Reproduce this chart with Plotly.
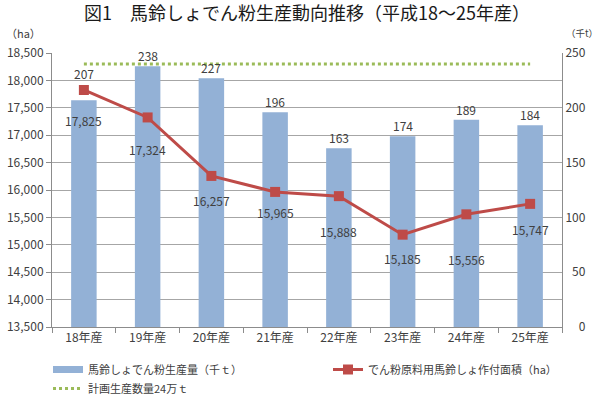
import plotly.graph_objects as go

categories = ["18年産", "19年産", "20年産", "21年産", "22年産", "23年産", "24年産", "25年産"]
production = [207, 238, 227, 196, 163, 174, 189, 184]          # 千t (right axis)
area = [17825, 17324, 16257, 15965, 15888, 15185, 15556, 15747]  # ha (left axis)
plan = [240] * len(categories)                                  # 千t

bar_label_shift = [16, 0, 0, 0, 0, 0, 0, 0]
line_label_drop = [31, 32, 25, 21, 35, 24, 45, 26]

FONT = "Noto Sans CJK JP"
TXT = "#404040"
GRID = "#a6a6a6"
AX = "#8c8c8c"
BAR = "#93b1d6"

W, H = 600, 398
ml, mr, mt, mb = 52, 38, 53, 71
pw, ph = W - ml - mr, H - mt - mb


def px_x(x):
    return (x - ml) / pw


def px_y(y):
    return (H - mb - y) / ph


fig = go.Figure()
fig.add_trace(go.Bar(
    x=categories, y=production, name="馬鈴しょでん粉生産量（千ｔ）",
    marker=dict(color=BAR, line=dict(width=0)),
    yaxis="y", showlegend=False,
))
# legend swatch for the bar series (wide flat bar like the reference)
fig.add_trace(go.Scatter(
    x=[None], y=[None], name="馬鈴しょでん粉生産量（千ｔ）", mode="lines",
    line=dict(color=BAR, width=7), yaxis="y", legend="legend", legendrank=1,
))
fig.add_trace(go.Scatter(
    x=categories, y=plan, name="計画生産数量24万ｔ", mode="lines",
    line=dict(color="#9bbb59", width=3, dash="3px,3px"),
    yaxis="y", legend="legend", legendrank=2,
))
fig.add_trace(go.Scatter(
    x=categories, y=area, name="でん粉原料用馬鈴しょ作付面積（ha）", mode="lines+markers",
    line=dict(color="#be4b48", width=3),
    marker=dict(symbol="square", size=10, color="#be4b48"),
    yaxis="y2", legend="legend2",
))

annotations = []
for c, v, s in zip(categories, production, bar_label_shift):
    annotations.append(dict(x=c, y=v, xref="x", yref="y", text=str(v), showarrow=False,
                            yanchor="bottom", yshift=s, font=dict(size=12, color=TXT)))
for c, v, d in zip(categories, area, line_label_drop):
    annotations.append(dict(x=c, y=v, xref="x", yref="y2", text=f"{v:,}", showarrow=False,
                            yanchor="middle", yshift=-d, font=dict(size=12, color=TXT)))
annotations.append(dict(x=px_x(23), y=px_y(33), xref="paper", yref="paper", text="（ha）",
                        showarrow=False, xanchor="center", yanchor="middle",
                        font=dict(size=11, color=TXT)))
annotations.append(dict(x=px_x(600), y=px_y(33), xref="paper", yref="paper", text="（千t）",
                        showarrow=False, xanchor="right", yanchor="middle",
                        font=dict(size=9.5, color=TXT)))

right_vals = [0, 50, 100, 150, 200, 250]
right_text = ["\u2007" * (3 - len(str(v))) + str(v) for v in right_vals]

legend_common = dict(orientation="v", xanchor="left", yanchor="top",
                     font=dict(size=11, color=TXT), itemwidth=30,
                     tracegroupgap=0, bgcolor="rgba(0,0,0,0)")

fig.update_layout(
    width=W, height=H,
    margin=dict(l=ml, r=mr, t=mt, b=mb, autoexpand=False),
    paper_bgcolor="white", plot_bgcolor="white",
    font=dict(family=FONT, size=12, color=TXT),
    title=dict(text="図1　馬鈴しょでん粉生産動向推移（平成18～25年産）", x=0.5, xanchor="center",
               xref="paper", yref="container", y=1 - 14 / H, yanchor="middle",
               font=dict(size=18, color="#1a1a1a")),
    bargap=0.6,
    showlegend=True,
    hovermode=False,
    legend=dict(x=px_x(48), y=px_y(355), **legend_common),
    legend2=dict(x=px_x(328), y=px_y(355), **legend_common),
    xaxis=dict(showgrid=False, showline=True, linecolor=AX, linewidth=1,
               ticks="outside", tickson="boundaries", ticklen=5, tickcolor=AX,
               tickfont=dict(size=12, color=TXT)),
    yaxis=dict(side="right", range=[0, 250], tickvals=right_vals, ticktext=right_text,
               showgrid=False, showline=True, linecolor=AX, linewidth=1,
               ticks="", zeroline=False, tickfont=dict(size=12, color=TXT)),
    yaxis2=dict(side="left", overlaying="y", range=[13500, 18500], dtick=500, tickformat=",",
                showgrid=True, gridcolor=GRID, gridwidth=1, showline=True, linecolor=AX,
                linewidth=1, ticks="outside", ticklen=5, tickcolor=AX, zeroline=False,
                tickfont=dict(size=12, color=TXT)),
    annotations=annotations,
)

fig.write_html("out.html", config={"displayModeBar": False},
               post_script="document.body.style.margin='0';document.body.style.overflow='hidden';")
